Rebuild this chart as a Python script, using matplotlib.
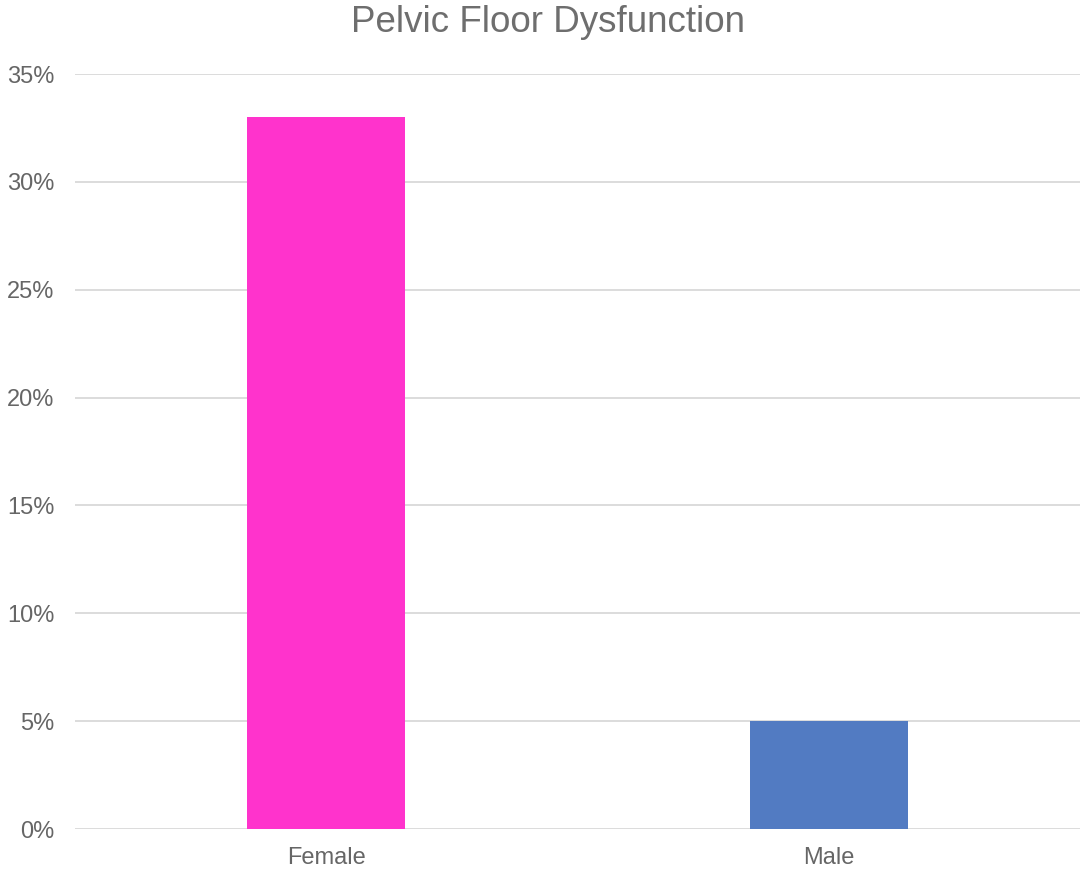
import matplotlib
matplotlib.use("Agg")
import matplotlib.pyplot as plt
from matplotlib.ticker import FuncFormatter, MultipleLocator

categories = ["Female", "Male"]
values = [33.0, 5.0]
colors = ["#FF33CC", "#527BC2"]

plt.rcParams['font.family'] = ['Liberation Sans', 'DejaVu Sans']

fig = plt.figure(figsize=(10.82, 8.72), dpi=100)
ax = fig.add_axes([75/1082, 1-829/872, (1080-75)/1082, (829-74)/872])

x = range(len(categories))
ax.bar(x, values, width=0.315, color=colors, zorder=3)
ax.set_xlim(-0.5, 1.5)
ax.set_ylim(0, 35)
ax.yaxis.set_major_locator(MultipleLocator(5))
ax.yaxis.set_major_formatter(FuncFormatter(lambda v, p: f"{int(round(v))}%"))
ax.set_xticks(list(x))
ax.set_xticklabels(categories)
ax.grid(axis='y', color='#D9D9D9', linewidth=1.3, zorder=0)
for s in ax.spines.values():
    s.set_visible(False)
ax.tick_params(axis='both', length=0, labelsize=17, colors='#666666')
ax.tick_params(axis='y', pad=15)
ax.tick_params(axis='x', pad=13)
fig.text(548/1082, 1-23/872, "Pelvic Floor Dysfunction", ha='center', va='center',
         fontsize=26.5, color='#6E6E6E')
fig.savefig("out.png", dpi=100)
